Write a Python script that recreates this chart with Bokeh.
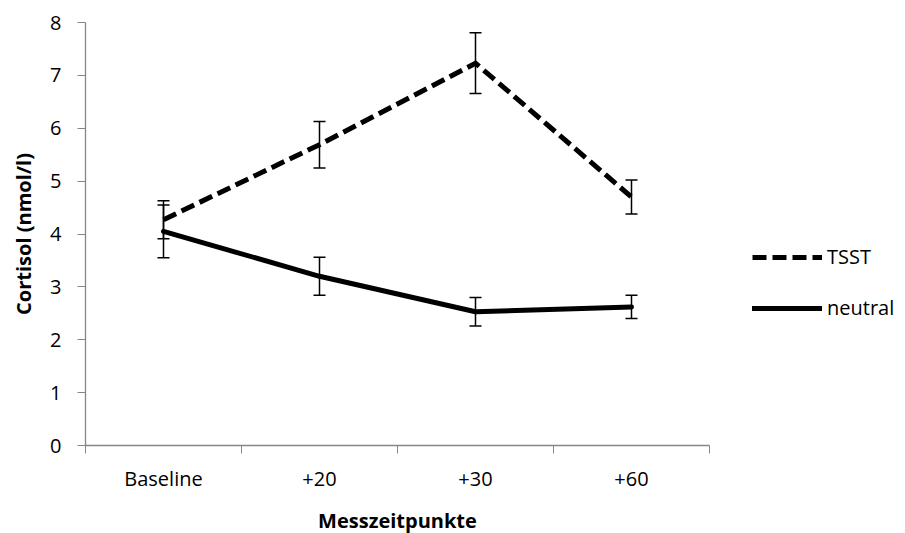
from bokeh.plotting import figure
from bokeh.models import (ColumnDataSource, Whisker, TeeHead, FixedTicker, Range1d,
                          Legend, LegendItem)
from bokeh.embed import file_html
from bokeh.resources import INLINE

categories = ["Baseline", "+20", "+30", "+60"]
tsst_mean = [4.27, 5.69, 7.23, 4.70]
tsst_err = [0.36, 0.44, 0.575, 0.32]
neutral_mean = [4.05, 3.20, 2.53, 2.62]
neutral_err = [0.50, 0.36, 0.27, 0.22]
y_ticks = [0, 1, 2, 3, 4, 5, 6, 7, 8]

xs = [i + 0.5 for i in range(len(categories))]
FONT = "Open Sans"
AXIS_COL = "#868686"

p = figure(frame_width=624, frame_height=423, output_backend="svg", toolbar_location=None,
           x_range=Range1d(0, len(categories)), y_range=Range1d(0, 8),
           min_border_left=85, min_border_top=22, min_border_bottom=80,
           min_border_right=190)
p.outline_line_color = None
p.grid.visible = False
p.background_fill_color = "white"
p.border_fill_color = "white"

src_t = ColumnDataSource(dict(x=xs, y=tsst_mean,
                              lo=[m - e for m, e in zip(tsst_mean, tsst_err)],
                              hi=[m + e for m, e in zip(tsst_mean, tsst_err)]))
src_n = ColumnDataSource(dict(x=xs, y=neutral_mean,
                              lo=[m - e for m, e in zip(neutral_mean, neutral_err)],
                              hi=[m + e for m, e in zip(neutral_mean, neutral_err)]))

r_t = p.line("x", "y", source=src_t, line_color="black", line_width=5,
             line_dash="14 6", line_join="miter")
r_n = p.line("x", "y", source=src_n, line_color="black", line_width=5,
             line_cap="round", line_join="round")

for src in (src_t, src_n):
    w = Whisker(source=src, base="x", lower="lo", upper="hi",
                line_color="black", line_width=1.5,
                upper_head=TeeHead(size=12, line_color="black", line_width=1.5),
                lower_head=TeeHead(size=12, line_color="black", line_width=1.5))
    p.add_layout(w)

# x axis: labels at category centres, tick marks between categories
p.xaxis.ticker = FixedTicker(ticks=xs, minor_ticks=list(range(len(categories) + 1)))
p.xaxis.major_label_overrides = {x: c for x, c in zip(xs, categories)}
p.xaxis.major_tick_line_color = None
p.xaxis.minor_tick_line_color = AXIS_COL
p.xaxis.minor_tick_out = 8
p.xaxis.minor_tick_in = 0
p.xaxis.major_label_standoff = 11
p.xaxis.axis_label = "Messzeitpunkte"
p.xaxis.axis_label_standoff = 12

p.yaxis.ticker = FixedTicker(ticks=y_ticks)
p.yaxis.minor_tick_line_color = None
p.yaxis.major_tick_line_color = AXIS_COL
p.yaxis.major_tick_out = 8
p.yaxis.major_tick_in = 0
p.yaxis.major_label_standoff = 16
p.yaxis.axis_label = "Cortisol (nmol/l)"
p.yaxis.axis_label_standoff = 10

for ax in (p.xaxis, p.yaxis):
    ax.axis_line_color = AXIS_COL
    ax.axis_line_width = 1.3
    ax.major_label_text_font = FONT
    ax.major_label_text_font_size = "20px"
    ax.major_label_text_color = "black"
    ax.axis_label_text_font = FONT
    ax.axis_label_text_font_size = "20px"
    ax.axis_label_text_font_style = "bold"
    ax.axis_label_text_color = "black"

legend = Legend(items=[LegendItem(label="TSST", renderers=[r_t]),
                       LegendItem(label="neutral", renderers=[r_n])],
                location=(43, 124), orientation="vertical",
                glyph_width=70, glyph_height=20, label_height=20,
                label_standoff=5, spacing=24, padding=0, margin=0,
                border_line_color=None, background_fill_alpha=0,
                label_text_font=FONT, label_text_font_size="20px",
                label_text_color="black")
p.add_layout(legend, "right")

open("out.html", "w").write(file_html(p, INLINE))
